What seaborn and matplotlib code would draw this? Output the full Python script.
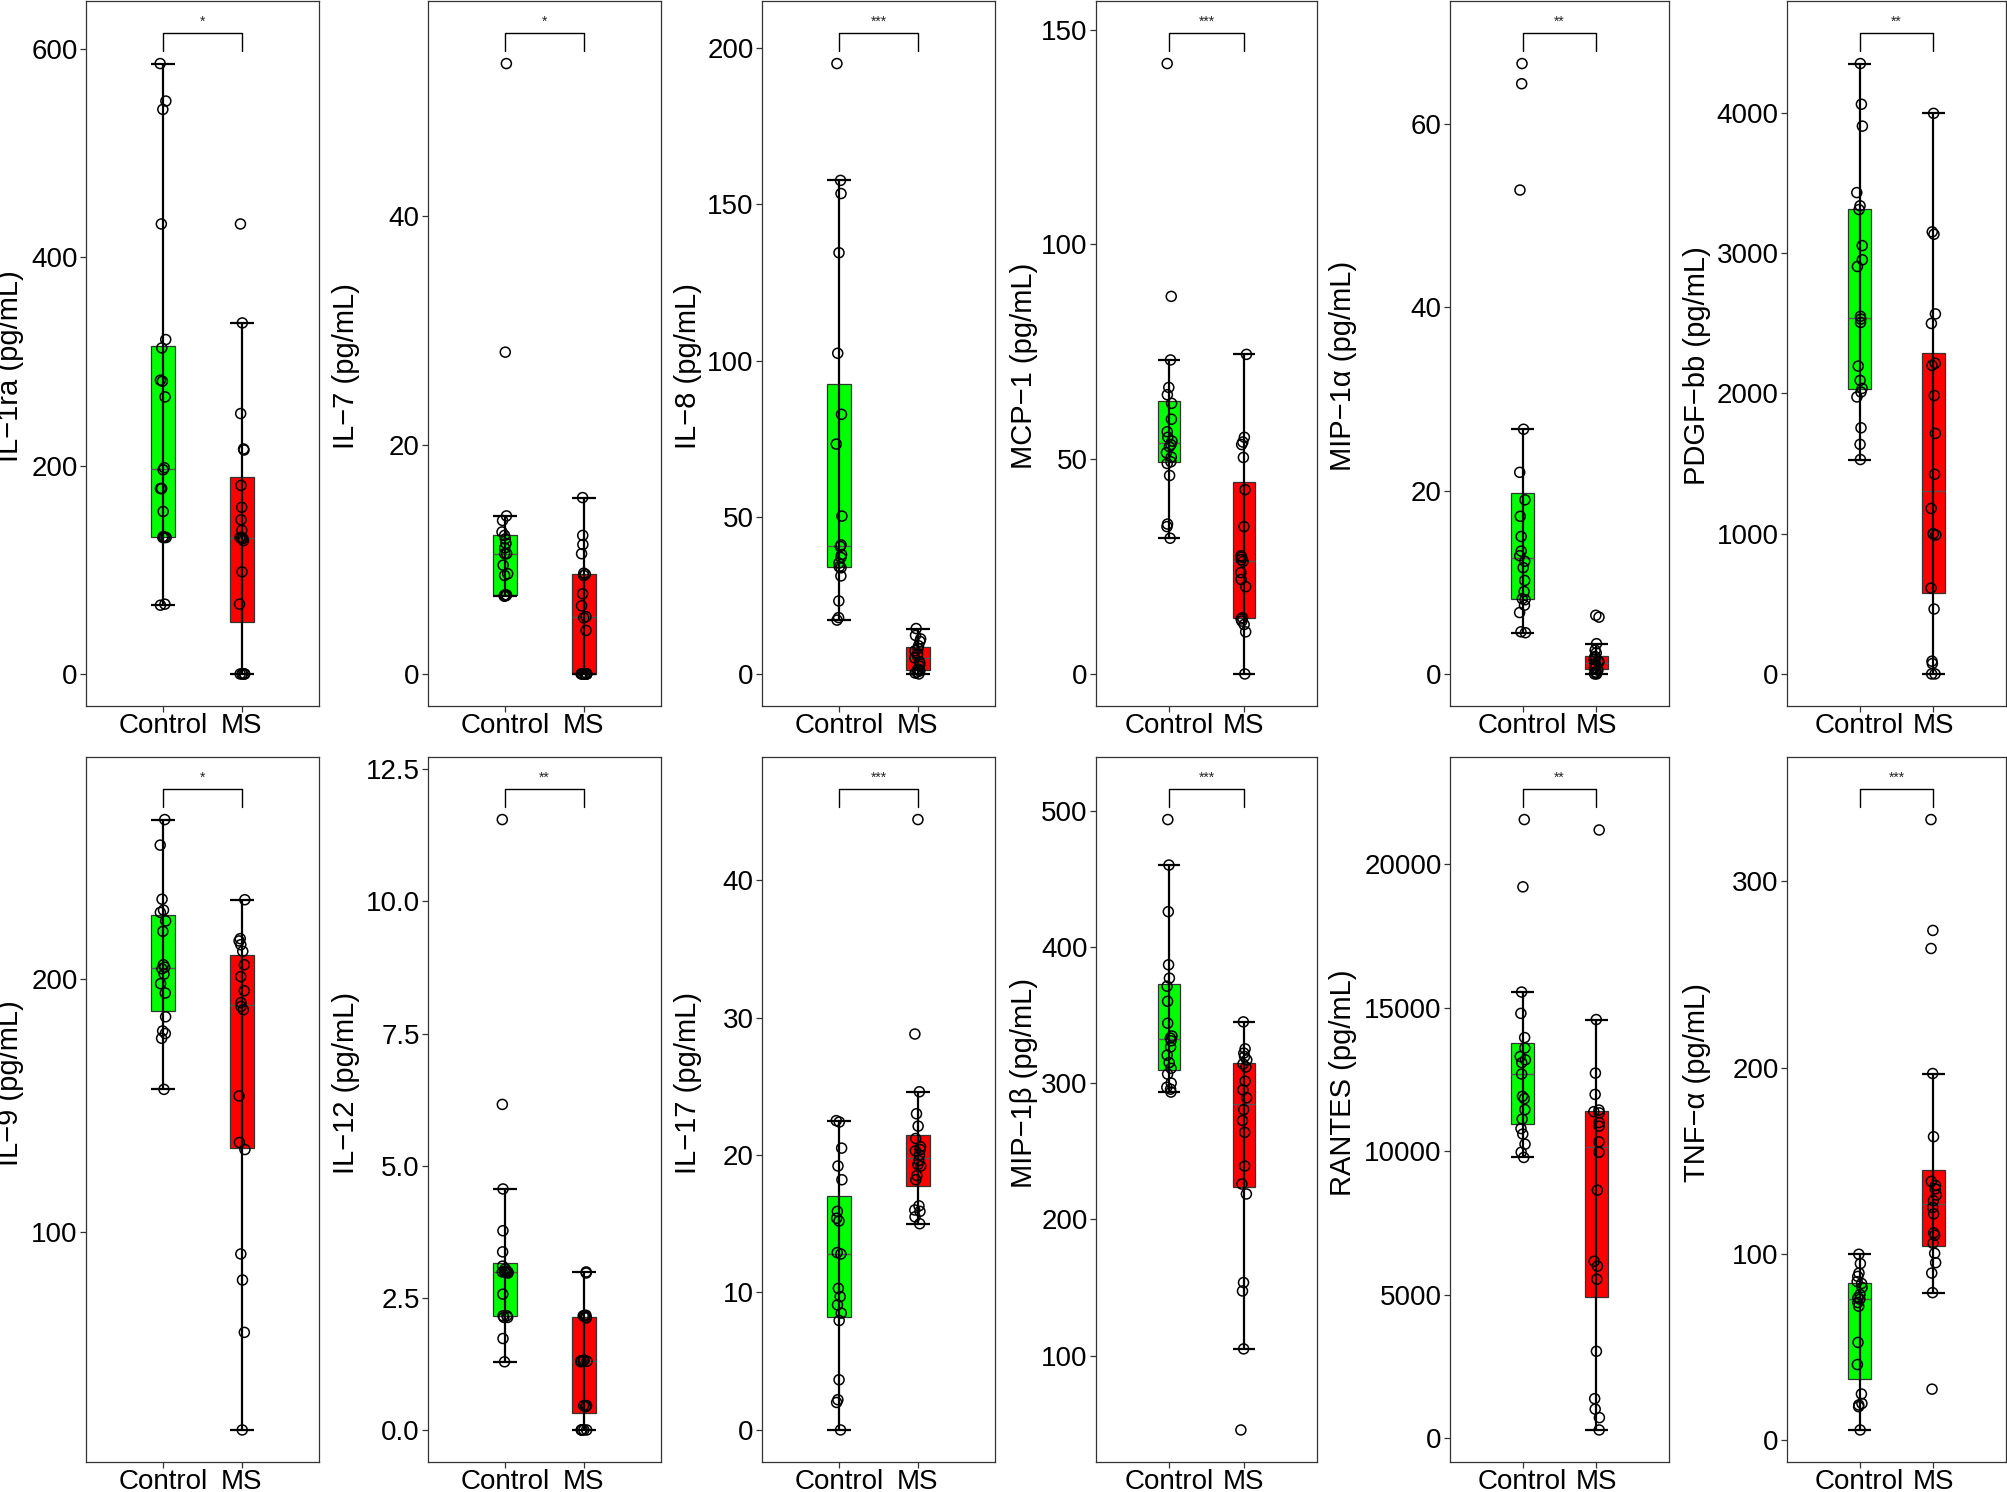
import numpy as np
import pandas as pd
import matplotlib
matplotlib.use("Agg")
import matplotlib.pyplot as plt
from matplotlib import cbook
import seaborn as sns

# groups and their fill colours
groups = ["Control", "MS"]
group_colors = {"Control": "#00FF00", "MS": "#FF0000"}

# cytokine values (pg/mL)
il1ra_control = [66, 67, 131, 131, 131, 132, 156, 178, 178, 196, 198, 266, 281, 282, 313, 321, 432, 542, 550, 586]
il1ra_ms = [0, 0, 0, 0, 0, 67, 98, 128, 130, 131, 131, 138, 148, 160, 181, 215, 216, 250, 337, 432]

il7_control = [6.8, 6.8, 6.85, 6.85, 6.9, 6.9, 8.6, 8.75, 9.5, 10.5, 10.5, 11.0, 11.4, 11.8, 12.1, 12.4, 13.4, 13.8, 28.1, 53.3]
il7_ms = [0, 0, 0, 0, 0, 0, 0, 0, 3.8, 4.9, 5.0, 5.95, 7.0, 8.6, 8.7, 8.8, 10.5, 11.3, 12.1, 15.4]

il8_control = [17.2, 18.0, 23.3, 31.3, 33.9, 34.2, 35.4, 37.2, 38.1, 40.7, 41.2, 50.4, 73.4, 82.9, 102.4, 134.5, 153.4, 157.6, 194.9]
il8_ms = [0, 0.3, 0.6, 1.0, 1.3, 1.5, 2.5, 3.2, 3.9, 5.1, 5.9, 6.5, 7.4, 8.2, 9.0, 10.4, 11.2, 12.3, 14.5]

mcp1_control = [31.6, 34.3, 34.9, 46.2, 49.0, 49.4, 50.5, 51.5, 52.9, 53.4, 54.2, 55.1, 56.4, 59.3, 63.0, 65.0, 66.7, 73.1, 87.9, 142.1]
mcp1_ms = [0, 9.8, 11.5, 12.3, 12.8, 13.1, 20.3, 22.0, 23.6, 26.2, 26.6, 27.2, 27.5, 34.3, 42.9, 50.4, 53.4, 54.0, 55.1, 74.4]

mip1a_control = [4.5, 4.6, 6.7, 7.5, 8.1, 8.2, 9.0, 10.2, 11.6, 12.3, 12.9, 13.4, 15.0, 17.2, 19.0, 22.0, 26.7, 52.8, 64.4, 66.6]
mip1a_ms = [0, 0, 0.1, 0.2, 0.4, 0.6, 0.7, 0.9, 1.0, 1.1, 1.3, 1.4, 1.6, 1.8, 1.9, 2.3, 2.6, 3.3, 6.2, 6.4]

pdgf_control = [1529, 1637, 1755, 1975, 2010, 2036, 2093, 2195, 2506, 2530, 2550, 2905, 2953, 3054, 3311, 3338, 3432, 3906, 4062, 4352]
pdgf_ms = [0, 0, 74, 91, 463, 612, 991, 998, 1000, 1180, 1424, 1715, 1985, 2200, 2215, 2499, 2567, 3135, 3152, 3997]

il9_control = [156.3, 176.5, 178.4, 179.4, 185.0, 194.4, 198.1, 201.9, 204.0, 204.6, 205.6, 218.8, 222.9, 226.3, 227.2, 231.5, 252.9, 263.0]
il9_ms = [21.6, 60.2, 80.9, 91.2, 132.5, 135.3, 153.7, 187.8, 189.1, 190.6, 195.3, 200.9, 205.6, 210.9, 213.5, 215.0, 215.9, 231.3]

il12_control = [1.29, 1.73, 2.13, 2.13, 2.16, 2.16, 2.57, 2.97, 2.99, 2.99, 2.99, 3.0, 3.0, 3.05, 3.1, 3.37, 3.77, 4.56, 6.16, 11.55]
il12_ms = [0, 0, 0, 0, 0, 0.44, 0.46, 0.46, 1.29, 1.30, 1.31, 1.31, 1.32, 2.12, 2.13, 2.16, 2.16, 2.17, 2.97, 2.99]

il17_control = [0, 2.0, 2.2, 3.65, 7.96, 8.5, 9.1, 9.7, 10.3, 12.8, 12.9, 15.2, 15.4, 15.9, 18.2, 19.2, 20.5, 22.4, 22.5]
il17_ms = [15.0, 15.5, 15.9, 16.0, 16.3, 18.2, 18.5, 19.2, 19.3, 19.6, 20.0, 20.3, 20.4, 20.6, 21.2, 22.1, 23.0, 24.6, 28.8, 44.4]

mip1b_control = [293.4, 295.5, 296.9, 300.0, 306.6, 310.8, 315.0, 320.5, 326.5, 331.0, 333.0, 334.5, 343.9, 360.0, 371.1, 377.0, 386.8, 425.8, 460.0, 493.4]
mip1b_ms = [45.4, 104.9, 147.4, 153.6, 218.6, 225.9, 239.1, 263.8, 272.5, 280.5, 289.2, 295.0, 301.4, 311.8, 314.0, 317.0, 319.5, 322.0, 325.1, 344.9]

rantes_control = [9786, 9967, 10248, 10600, 10792, 11122, 11452, 11832, 11914, 12690, 13086, 13185, 13300, 13597, 13960, 14802, 15545, 19208, 21551]
rantes_ms = [297, 726, 1023, 1386, 3036, 5545, 6000, 6172, 8647, 9967, 10330, 10875, 11000, 11337, 11380, 11436, 11980, 12723, 14587, 21188]

tnfa_control = [5.6, 18.1, 19.0, 19.8, 24.9, 40.7, 52.6, 72.0, 74.0, 75.8, 76.5, 78.3, 82.1, 84.2, 85.2, 88.0, 89.8, 94.9, 99.9]
tnfa_ms = [27.5, 79.3, 89.8, 95.4, 100.4, 105.8, 110.1, 111.4, 121.6, 125.0, 128.7, 131.7, 135.0, 136.8, 139.0, 163.0, 196.9, 264.0, 273.7, 333.2]

# y labels, significance stars and y ticks of every panel
y_labels = ["IL\u22121ra (pg/mL)", "IL\u22127 (pg/mL)", "IL\u22128 (pg/mL)", "MCP\u22121 (pg/mL)",
            "MIP\u22121\u03b1 (pg/mL)", "PDGF\u2212bb (pg/mL)", "IL\u22129 (pg/mL)", "IL\u221212 (pg/mL)",
            "IL\u221217 (pg/mL)", "MIP\u22121\u03b2 (pg/mL)", "RANTES (pg/mL)", "TNF\u2212\u03b1 (pg/mL)"]
stars = ["*", "*", "***", "***", "**", "**", "*", "**", "***", "***", "**", "***"]
y_ticks = [[0, 200, 400, 600], [0, 20, 40], [0, 50, 100, 150, 200], [0, 50, 100, 150],
           [0, 20, 40, 60], [0, 1000, 2000, 3000, 4000], [100, 200], [0.0, 2.5, 5.0, 7.5, 10.0, 12.5],
           [0, 10, 20, 30, 40], [100, 200, 300, 400, 500], [0, 5000, 10000, 15000, 20000], [0, 100, 200, 300]]

control_sets = [il1ra_control, il7_control, il8_control, mcp1_control, mip1a_control, pdgf_control,
                il9_control, il12_control, il17_control, mip1b_control, rantes_control, tnfa_control]
ms_sets = [il1ra_ms, il7_ms, il8_ms, mcp1_ms, mip1a_ms, pdgf_ms,
           il9_ms, il12_ms, il17_ms, mip1b_ms, rantes_ms, tnfa_ms]

sns.set_theme(style="white")
plt.rcParams["font.family"] = ["Liberation Sans", "DejaVu Sans"]

W, H = 2008, 1492
fig = plt.figure(figsize=(W / 100, H / 100), dpi=100)

# panel frames in pixels
lefts = [86, 428, 762, 1096, 1450, 1787]
rights = [319, 661, 995, 1317, 1669, 2006]
row_tops = [1, 757]
row_bottoms = [706, 1462]
label_right = [24, 360, 702, 1038, 1357, 1711]
label_mid = [366, 1083]
frame_col = "#333333"

np.random.seed(7)  # keeps the jitter the same from run to run

for i in range(12):
    r, c = divmod(i, 6)
    ctrl, ms = control_sets[i], ms_sets[i]
    ax = fig.add_axes([lefts[c] / W, 1 - row_bottoms[r] / H,
                       (rights[c] - lefts[c]) / W, (row_bottoms[r] - row_tops[r]) / H])

    df = pd.DataFrame({"group": ["Control"] * len(ctrl) + ["MS"] * len(ms),
                       "value": ctrl + ms})

    # boxes (no whiskers, the errorbar style whiskers are added below)
    sns.boxplot(data=df, x="group", y="value", hue="group", order=groups, hue_order=groups,
                palette=group_colors, saturation=1, width=0.3, showfliers=False,
                showcaps=False, whiskerprops={"linewidth": 0}, linecolor=frame_col,
                linewidth=0.9, medianprops={"color": "#555555", "linewidth": 1.0},
                legend=False, ax=ax)

    # whisker line through the box plus caps, like stat_boxplot(geom = "errorbar")
    for pos, vals in enumerate([ctrl, ms]):
        st = cbook.boxplot_stats(np.asarray(vals, dtype=float), whis=1.5)[0]
        ax.vlines(pos, st["whislo"], st["whishi"], color="black", lw=1.6, zorder=3)
        ax.hlines([st["whislo"], st["whishi"]], pos - 0.15, pos + 0.15,
                  color="black", lw=1.6, zorder=3)

    sns.stripplot(data=df, x="group", y="value", order=groups, jitter=0.04, size=7.2,
                  marker="o", facecolors="none", edgecolor="black", linewidth=1.1,
                  zorder=4, ax=ax)

    # significance bracket
    allv = np.asarray(ctrl + ms, dtype=float)
    lo, hi = allv.min(), allv.max()
    rng = hi - lo
    ybr = hi + 0.05 * rng
    tip = 0.03 * rng
    ax.plot([0, 0, 1, 1], [ybr - tip, ybr, ybr, ybr - tip], color="black", lw=1.0)
    ax.annotate(stars[i], xy=(0.5, ybr), xytext=(0, 5), textcoords="offset points",
                ha="center", va="baseline", fontsize=10)

    pad = 0.05 * (ybr - lo)
    ax.set_ylim(lo - pad, ybr + pad)
    ax.set_xlim(-0.98, 1.98)

    ticks = y_ticks[i]
    ax.set_yticks(ticks)
    if i == 7:
        ax.set_yticklabels([f"{t:.1f}" for t in ticks])
    else:
        ax.set_yticklabels([f"{t:g}" for t in ticks])
    ax.set_xticks([0, 1])
    ax.set_xticklabels(groups)
    ax.set_xlabel("")
    ax.set_ylabel(y_labels[i], fontsize=21, color="black")
    ax.yaxis.set_label_coords((label_right[c] - lefts[c]) / (rights[c] - lefts[c]),
                              (row_bottoms[r] - label_mid[r]) / (row_bottoms[r] - row_tops[r]))

    for s in ax.spines.values():
        s.set_visible(True)
        s.set_color(frame_col)
        s.set_linewidth(0.9)
    ax.tick_params(axis="both", direction="out", length=4, width=0.9, color=frame_col,
                   labelsize=20, labelcolor="black", pad=2, left=True, bottom=True)
    ax.tick_params(axis="x", pad=1)
    ax.grid(False)

fig.savefig("out.png", dpi=100)
